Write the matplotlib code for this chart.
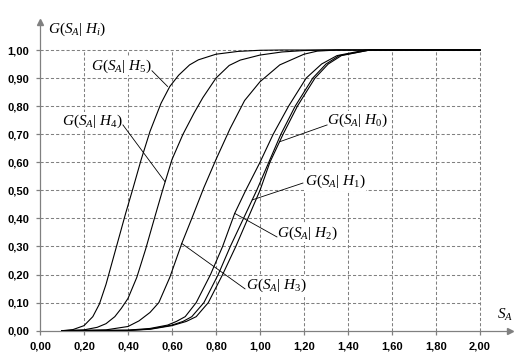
import matplotlib
matplotlib.use('Agg')
import matplotlib.pyplot as plt

# ── Data ─────────────────────────────────────────────────────────────────
h5_x = [0.10, 0.15, 0.20, 0.24, 0.27, 0.30, 0.33, 0.36, 0.39, 0.42, 0.46, 0.50,
        0.55, 0.59, 0.63, 0.68, 0.72, 0.80, 0.90, 1.00, 1.10, 2.00]
h5_y = [0.00, 0.004, 0.018, 0.05, 0.095, 0.165, 0.25, 0.335, 0.42, 0.50, 0.61, 0.71,
        0.81, 0.87, 0.91, 0.947, 0.965, 0.985, 0.995, 0.999, 1.00, 1.00]

h4_x = [0.10, 0.20, 0.26, 0.30, 0.34, 0.37, 0.40, 0.44, 0.48, 0.52, 0.557, 0.60,
        0.65, 0.70, 0.74, 0.80, 0.86, 0.91, 1.00, 1.10, 1.20, 1.30, 2.00]
h4_y = [0.00, 0.003, 0.012, 0.025, 0.05, 0.08, 0.115, 0.19, 0.29, 0.40, 0.50, 0.61,
        0.70, 0.775, 0.83, 0.90, 0.945, 0.964, 0.982, 0.993, 0.998, 1.00, 1.00]

h3_x = [0.10, 0.30, 0.40, 0.45, 0.50, 0.54, 0.59, 0.644, 0.69, 0.745, 0.80, 0.864,
        0.93, 1.00, 1.09, 1.20, 1.26, 1.35, 2.00]
h3_y = [0.00, 0.003, 0.015, 0.035, 0.065, 0.10, 0.19, 0.31, 0.40, 0.51, 0.61, 0.72,
        0.82, 0.887, 0.947, 0.985, 0.996, 1.00, 1.00]

h2_x = [0.10, 0.40, 0.50, 0.58, 0.62, 0.66, 0.71, 0.775, 0.83, 0.885, 0.935, 1.00,
        1.06, 1.13, 1.21, 1.28, 1.35, 1.48, 2.00]
h2_y = [0.00, 0.002, 0.008, 0.02, 0.033, 0.05, 0.10, 0.20, 0.30, 0.418, 0.50, 0.60,
        0.70, 0.80, 0.90, 0.95, 0.98, 1.00, 1.00]

h1_x = [0.10, 0.40, 0.50, 0.60, 0.65, 0.69, 0.745, 0.81, 0.865, 0.925, 0.985, 1.04,
        1.095, 1.16, 1.24, 1.30, 1.36, 1.50, 2.00]
h1_y = [0.00, 0.001, 0.006, 0.02, 0.033, 0.05, 0.10, 0.20, 0.30, 0.40, 0.50, 0.60,
        0.70, 0.80, 0.90, 0.95, 0.98, 1.00, 1.00]

h0_x = [0.10, 0.40, 0.50, 0.60, 0.665, 0.71, 0.765, 0.83, 0.89, 0.945, 1.00, 1.045,
        1.105, 1.17, 1.25, 1.31, 1.37, 1.50, 2.00]
h0_y = [0.00, 0.001, 0.005, 0.018, 0.033, 0.05, 0.10, 0.20, 0.30, 0.40, 0.50, 0.60,
        0.70, 0.80, 0.90, 0.95, 0.98, 1.00, 1.00]

x_ticks = [0.0, 0.2, 0.4, 0.6, 0.8, 1.0, 1.2, 1.4, 1.6, 1.8, 2.0]
y_ticks = [0.0, 0.1, 0.2, 0.3, 0.4, 0.5, 0.6, 0.7, 0.8, 0.9, 1.0]

# label text, point on the curve, leader start, text position, alignment
labels = [
    (r'$G(S_A|\ H_\mathit{5})$', (0.58, 0.87), (0.509, 0.926), (0.509, 0.943), 'right'),
    (r'$G(S_A|\ H_\mathit{4})$', (0.568, 0.531), (0.377, 0.733), (0.377, 0.747), 'right'),
    (r'$G(S_A|\ H_\mathit{0})$', (1.089, 0.673), (1.305, 0.733), (1.305, 0.75), 'left'),
    (r'$G(S_A|\ H_\mathit{1})$', (0.965, 0.466), (1.195, 0.526), (1.203, 0.533), 'left'),
    (r'$G(S_A|\ H_\mathit{2})$', (0.885, 0.418), (1.077, 0.334), (1.077, 0.348), 'left'),
    (r'$G(S_A|\ H_\mathit{3})$', (0.644, 0.311), (0.932, 0.149), (0.936, 0.16), 'left'),
]

# ── Style ────────────────────────────────────────────────────────────────
plt.rcParams['mathtext.fontset'] = 'custom'
plt.rcParams['mathtext.rm'] = 'Liberation Serif'
plt.rcParams['mathtext.it'] = 'Liberation Serif:italic'
plt.rcParams['font.family'] = ['Liberation Sans', 'DejaVu Sans']

axis_gray = '#808080'

fig = plt.figure(figsize=(5.2, 3.6), dpi=100)
ax = fig.add_axes([40/520, 29.3/360, 470/520, 308.7/360])
ax.set_xlim(0, 470/220)
ax.set_ylim(0, 308.7/280.7)

# dashed grid box 0..2 x 0..1
ax.vlines(x_ticks[1:], 0, 1.0, colors=axis_gray, linestyles=(0, (3, 2)), lw=0.75, zorder=1)
ax.hlines(y_ticks[1:], 0, 2.0, colors=axis_gray, linestyles=(0, (3, 2)), lw=0.75, zorder=1)

for xs, ys in [(h5_x, h5_y), (h4_x, h4_y), (h3_x, h3_y),
               (h2_x, h2_y), (h1_x, h1_y), (h0_x, h0_y)]:
    ax.plot(xs, ys, color='black', lw=0.8, zorder=3)

# curve labels with leader lines (white box hides the grid behind text)
for text, pt, start, pos, ha in labels:
    ax.plot([start[0], pt[0]], [start[1], pt[1]], color='black', lw=0.6, zorder=4)
    ax.text(pos[0], pos[1], text, ha=ha, va='center', fontsize=11, zorder=2,
            bbox=dict(facecolor='white', edgecolor='none', pad=0.5))

# axes with arrows
for s in ['top', 'right']:
    ax.spines[s].set_visible(False)
for s in ['left', 'bottom']:
    ax.spines[s].set_color(axis_gray)
    ax.spines[s].set_linewidth(0.9)
ax.plot(1, 0, '>', color=axis_gray, ms=5, transform=ax.transAxes, clip_on=False)
ax.plot(0, 1, '^', color=axis_gray, ms=5, transform=ax.transAxes, clip_on=False)

ax.set_xticks(x_ticks)
ax.set_yticks(y_ticks)
ax.set_xticklabels([f'{v:.2f}'.replace('.', ',') for v in x_ticks], fontweight='bold')
ax.set_yticklabels([f'{v:.2f}'.replace('.', ',') for v in y_ticks], fontweight='bold')
ax.tick_params(direction='out', length=3, width=0.9, color=axis_gray,
               labelsize=8, pad=5)

ax.text(0.035, 1.075, r'$G(S_A|\ H_i)$', fontsize=11, ha='left', va='center')
ax.text(2.075, 0.055, r'$S_A$', fontsize=11, ha='left', va='center')

plt.savefig('out.png', dpi=100)
